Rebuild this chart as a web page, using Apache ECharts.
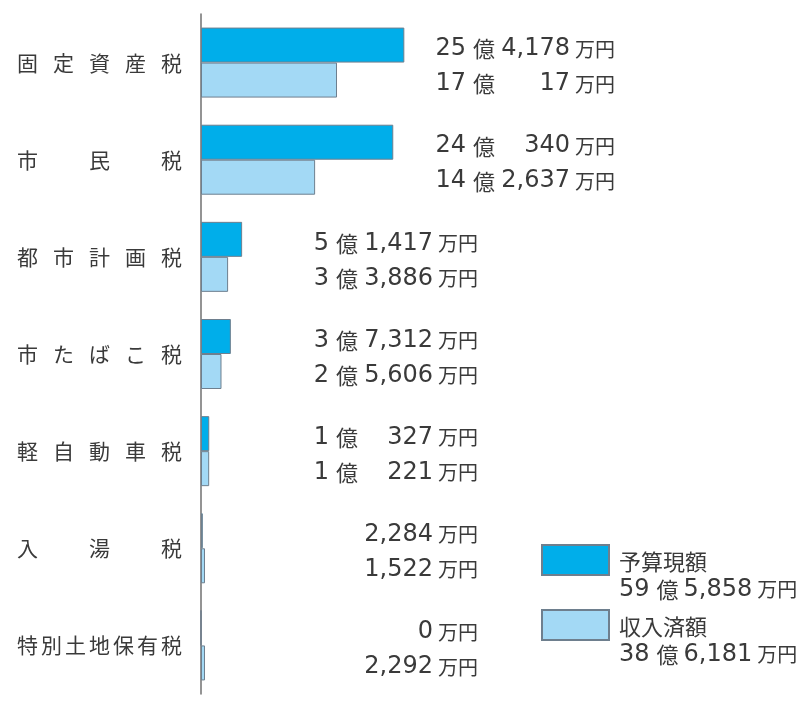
<!DOCTYPE html>
<html>
<head>
<meta charset="utf-8">
<script src="https://cdn.jsdelivr.net/npm/echarts@6/dist/echarts.min.js"></script>
<style>
  html, body { margin: 0; background: #fff; }
  #main { width: 801px; height: 711px; }
</style>
</head>
<body>
<div id="main"></div>
<script>
// 税目
const categories = ["固定資産税", "市民税", "都市計画税", "市たばこ税", "軽自動車税", "入湯税", "特別土地保有税"];
// 予算現額（万円）
const budget = [254178, 240340, 51417, 37312, 10327, 2284, 0];
// 収入済額（万円）
const revenue = [170017, 142637, 33886, 25606, 10221, 1522, 2292];
const seriesNames = ["予算現額", "収入済額"];

const CJK = "Noto Sans CJK JP";
const NUM = "DejaVu Sans";
const TEXT = "#3a3a3a";

const sum = (arr) => arr.reduce((a, b) => a + b, 0);
const totals = { "予算現額": sum(budget), "収入済額": sum(revenue) };

// 金額を「億・万円」表記に
function amount(v, numStyle) {
   const oku = Math.floor(v / 10000);
   const man = (v % 10000).toLocaleString("en-US");
   if (oku > 0) return `{o|${oku}}{k|億}{${numStyle}|${man}}{u|万円}`;
   return `{${numStyle}|${man}}{u|万円}`;
}

const amountRich = {
   o: { fontFamily: NUM, fontSize: 24, color: TEXT, lineHeight: 28 },
   k: { fontFamily: CJK, fontSize: 22, color: TEXT, lineHeight: 28, padding: [0, 1, 0, 7] },
   m: { fontFamily: NUM, fontSize: 24, color: TEXT, lineHeight: 28, width: 74, align: "right" },
   f: { fontFamily: NUM, fontSize: 24, color: TEXT, lineHeight: 28, padding: [0, 0, 0, 4] },
   u: { fontFamily: CJK, fontSize: 20, color: TEXT, lineHeight: 28, padding: [0, 0, 0, 5] },
   n: { fontFamily: CJK, fontSize: 22, color: TEXT, lineHeight: 28 },
};

// 左側の税目ラベル（字間を均等に）
const catRich = {
   s3: { fontFamily: CJK, fontSize: 21, color: TEXT, width: 72 },
   s5: { fontFamily: CJK, fontSize: 21, color: TEXT, width: 36 },
   s7: { fontFamily: CJK, fontSize: 21, color: TEXT, width: 24 },
};

const myChart = echarts.init(document.getElementById("main"));

const barStyle = (color) => ({ color: color, borderColor: "#6e7f8e", borderWidth: 1 });

const valueLabel = {
   show: true,
   position: "right",
   formatter: (p) => amount(p.value, "m"),
   rich: amountRich,
};
// 金額ラベルは右揃えで固定位置に
const labelLayout = (p) => ({
   x: p.dataIndex < 2 ? 615 : 478,
   y: p.rect.y + p.rect.height / 2 + 4,
   align: "right",
   verticalAlign: "middle",
});

const legendBase = {
   orient: "vertical",
   left: 541,
   padding: 0,
   icon: "rect",
   itemWidth: 67,
   itemHeight: 30,
   formatter: (name) => `{n|${name}}\n` + amount(totals[name], "f"),
   textStyle: { rich: amountRich, padding: [31, 0, 0, 5] },
};

const option = {
   backgroundColor: "#fff",
   animation: false,
   legend: [
      Object.assign({}, legendBase, { data: [seriesNames[0]], top: 544 }),
      Object.assign({}, legendBase, { data: [seriesNames[1]], top: 609 }),
   ],
   grid: { left: 201, top: 14, width: 240, height: 680 },
   xAxis: { type: "value", min: 0, max: 300000, show: false },
   yAxis: {
      type: "category",
      inverse: true,
      data: categories,
      axisTick: { show: false },
      axisLine: { show: true, lineStyle: { color: "#707070", width: 1.5 } },
      axisLabel: {
         margin: 184,
         align: "left",
         formatter: (value) => {
            const chars = Array.from(value);
            return chars.map((c) => `{s${chars.length}|${c}}`).join("");
         },
         rich: catRich,
      },
   },
   series: [
      {
         name: seriesNames[0],
         type: "bar",
         barWidth: 35,
         barGap: "0%",
         itemStyle: barStyle("#00aeea"),
         label: valueLabel,
         labelLayout: labelLayout,
         data: budget,
      },
      {
         name: seriesNames[1],
         type: "bar",
         barWidth: 35,
         barGap: "0%",
         barMinHeight: 4,
         itemStyle: barStyle("#a3d9f5"),
         label: valueLabel,
         labelLayout: labelLayout,
         data: revenue,
      },
   ],
};

myChart.setOption(option);
</script>
</body>
</html>
